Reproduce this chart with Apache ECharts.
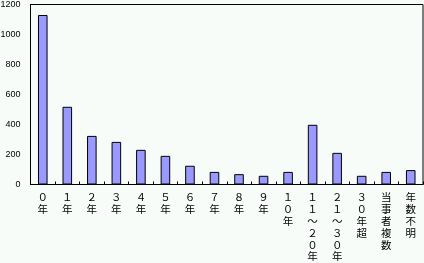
<!DOCTYPE html>
<html><head><meta charset="utf-8">
<script src="https://cdn.jsdelivr.net/npm/echarts@6/dist/echarts.min.js"></script>
<style>html,body{margin:0;padding:0;background:#f7fcf8;}#c{width:424px;height:263px;}</style>
</head><body><div id="c"></div>
<script>
const categories = ["０年","１年","２年","３年","４年","５年","６年","７年","８年","９年","１０年","１１～２０年","２１～３０年","３０年超","当事者複数","年数不明"];
const values = [1130, 518, 324, 284, 231, 191, 125, 84, 69, 58, 84, 398, 211, 58, 84, 96];
const yTicks = [0, 200, 400, 600, 800, 1000, 1200];

const chart = echarts.init(document.getElementById('c'));
chart.setOption({
  backgroundColor: '#f7fcf8',
  animation: false,
  grid: { left: 30.5, right: 1, top: 4.5, bottom: 78.5, containLabel: false, outerBoundsMode: 'none', show: true, borderColor: '#000', borderWidth: 1, backgroundColor: 'transparent' },
  xAxis: {
    type: 'category',
    data: categories,
    axisLine: { lineStyle: { color: '#000', width: 1 } },
    axisTick: { show: true, inside: true, length: 3, lineStyle: { color: '#000' } },
    axisLabel: {
      interval: 0,
      margin: 7,
      verticalAlign: 'top',
      color: '#000',
      fontFamily: 'Noto Sans CJK JP',
      fontSize: 10.5,
      lineHeight: 11.8,
      formatter: v => v.split('').join('\n')
    }
  },
  yAxis: {
    type: 'value',
    min: yTicks[0], max: yTicks[yTicks.length - 1], interval: 200,
    splitLine: { show: false },
    axisLine: { show: true, lineStyle: { color: '#000', width: 1 } },
    axisTick: { show: false },
    axisLabel: { color: '#000', fontFamily: 'Liberation Sans', fontSize: 9, margin: 10, formatter: v => String(v) }
  },
  series: [{
    type: 'bar',
    data: values,
    barWidth: '39%',
    itemStyle: { color: '#9999ff', borderColor: '#000', borderWidth: 1 }
  }]
});
</script></body></html>
